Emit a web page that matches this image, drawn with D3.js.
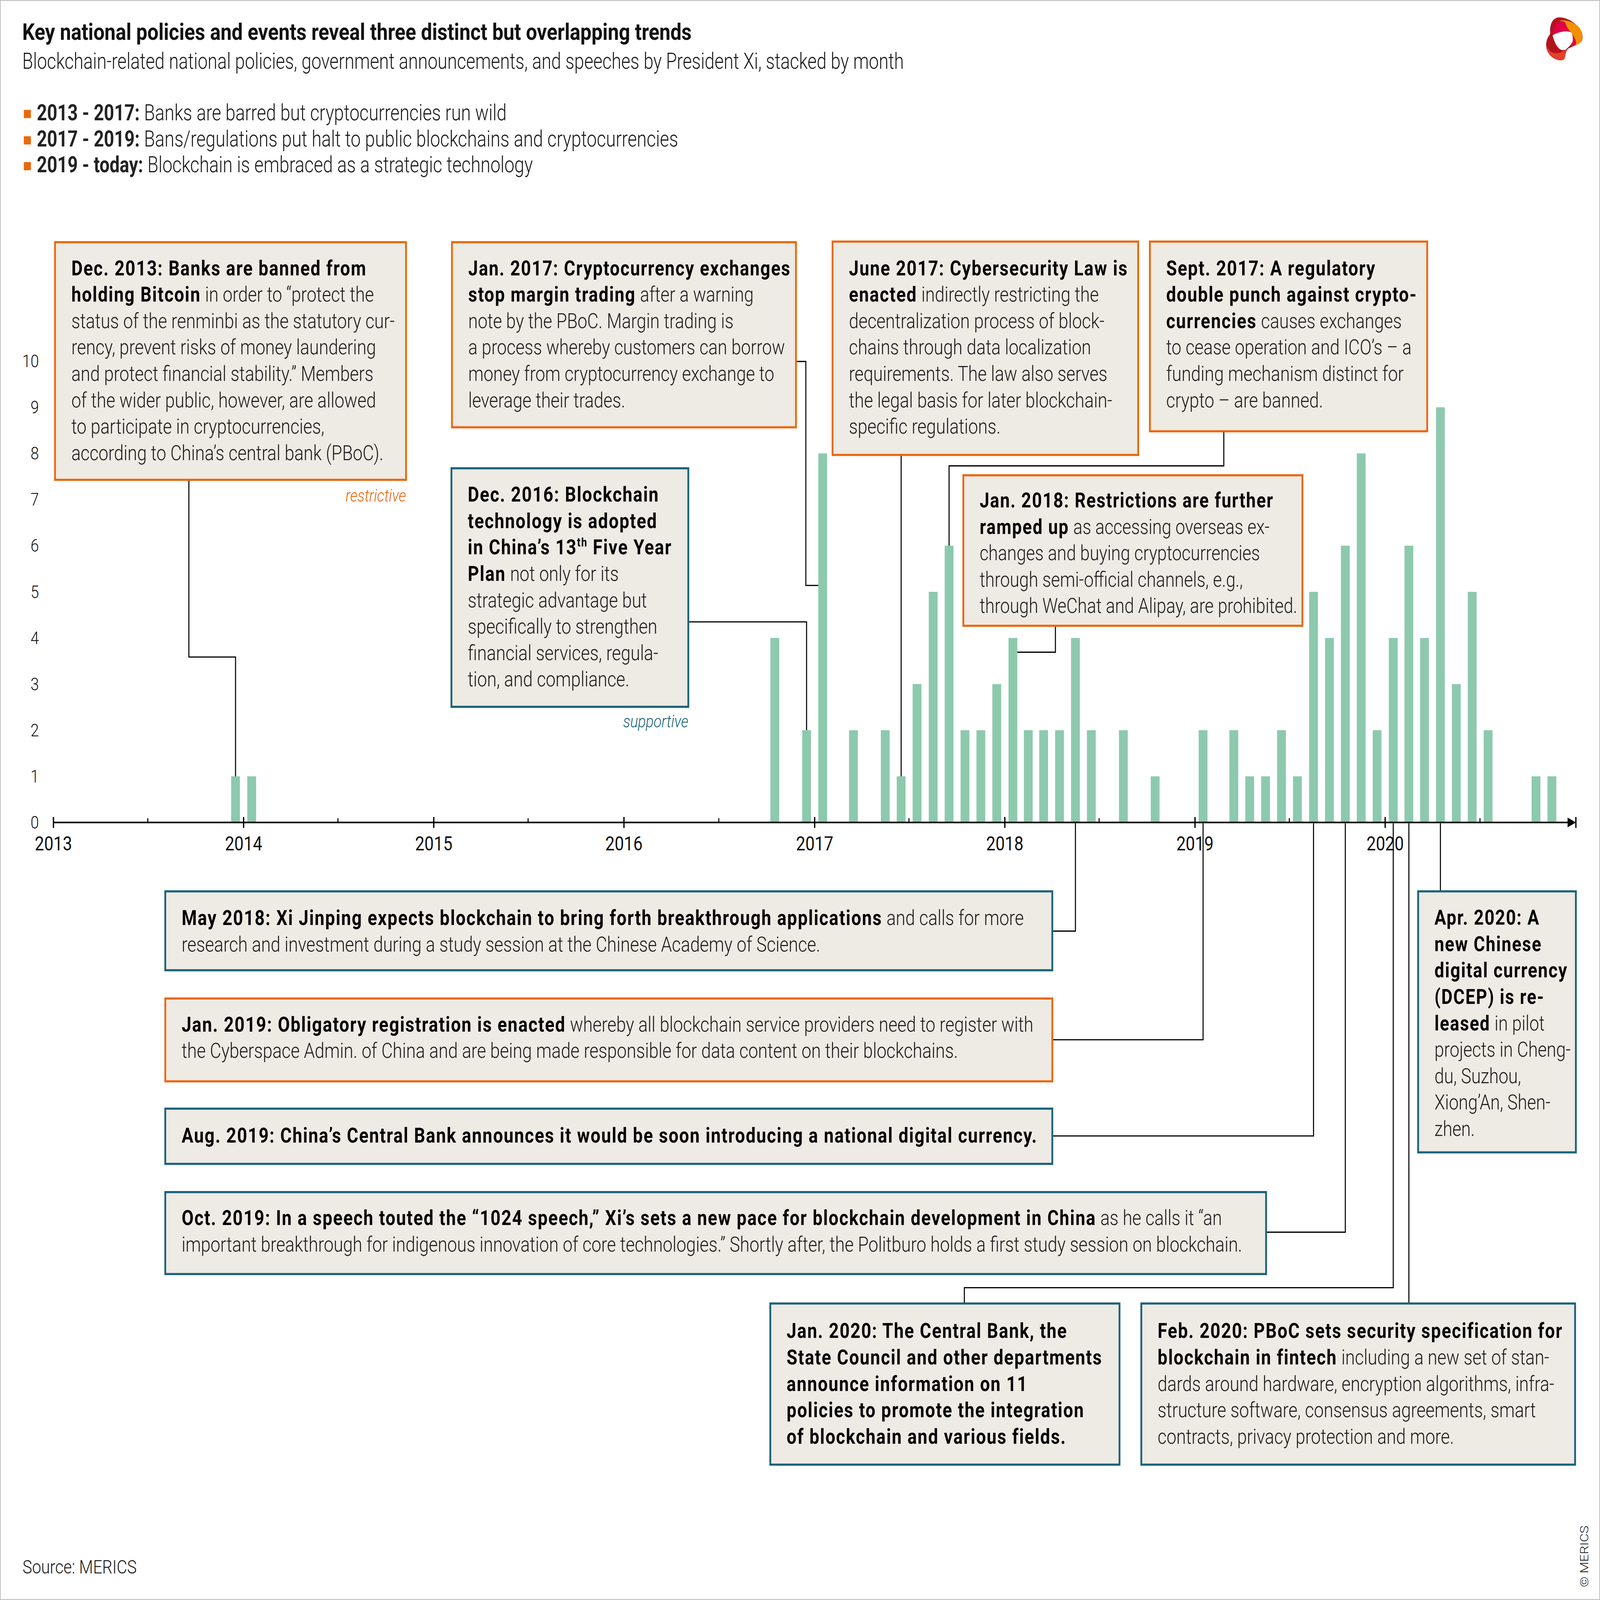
<!DOCTYPE html>
<html><head><meta charset="utf-8">
<script src="https://cdn.jsdelivr.net/npm/d3@7"></script>
<style>
html,body{margin:0;padding:0;background:#fff;width:100%;height:100%;overflow:hidden;}
svg{display:block;width:100vw;height:100vh;}
text{font-family:Roboto,"Open Sans",sans-serif;white-space:pre;}
</style></head>
<body>
<svg id="chart" viewBox="0 0 6167 5272" preserveAspectRatio="none"></svg>
<script>
// ---------------- DATA ----------------
const years = [2013, 2014, 2015, 2016, 2017, 2018, 2019, 2020];
const events2013 = [0,0,0,0,0,0,0,0,0,0,0,1];
const events2014 = [1,0,0,0,0,0,0,0,0,0,0,0];
const events2015 = [0,0,0,0,0,0,0,0,0,0,0,0];
const events2016 = [0,0,0,0,0,0,0,0,0,4,0,2];
const events2017 = [8,0,2,0,2,1,3,5,6,2,2,3];
const events2018 = [4,2,2,2,4,2,0,2,0,1,0,0];
const events2019 = [2,0,2,1,1,2,1,5,4,6,8,2];
const events2020 = [4,6,4,9,3,5,2,0,0,1,1,0];
const yTickValues = [0,1,2,3,4,5,6,7,8,9,10];
const yearTickLabels = ["2013","2014","2015","2016","2017","2018","2019","2020"];

const titleText = "Key national policies and events reveal three distinct but overlapping trends";
const subtitleText = "Blockchain-related national policies, government announcements, and speeches by President Xi, stacked by month";
const phaseLabels = ["2013 - 2017:", "2017 - 2019:", "2019 - today:"];
const phaseTexts = [" Banks are barred but cryptocurrencies run wild",
                    " Bans/regulations put halt to public blockchains and cryptocurrencies",
                    " Blockchain is embraced as a strategic technology"];
const sourceText = "Source: MERICS";
const copyrightText = "© MERICS";

// notes: event month [year, monthIndex], kind, lines (**bold**, ^sup^)
const noteEvents = [
  {id:"dec13", year:2013, month:11, kind:"restrictive", lines:[
    "**Dec. 2013: Banks are banned from**",
    "**holding Bitcoin** in order to “protect the",
    "status of the renminbi as the statutory cur-",
    "rency, prevent risks of money laundering",
    "and protect financial stability.” Members",
    "of the wider public, however, are allowed",
    "to participate in cryptocurrencies,",
    "according to China’s central bank (PBoC)."]},
  {id:"jan17", year:2017, month:0, kind:"restrictive", lines:[
    "**Jan. 2017: Cryptocurrency exchanges**",
    "**stop margin trading** after a warning",
    "note by the PBoC. Margin trading is",
    "a process whereby customers can borrow",
    "money from cryptocurrency exchange to",
    "leverage their trades."]},
  {id:"dec16", year:2016, month:11, kind:"supportive", lines:[
    "**Dec. 2016: Blockchain**",
    "**technology is adopted**",
    "**in China’s 13^th^ Five Year**",
    "**Plan** not only for its",
    "strategic advantage but",
    "specifically to strengthen",
    "financial services, regula-",
    "tion, and compliance."]},
  {id:"jun17", year:2017, month:5, kind:"restrictive", lines:[
    "**June 2017: Cybersecurity Law is**",
    "**enacted** indirectly restricting the",
    "decentralization process of block-",
    "chains through data localization",
    "requirements. The law also serves",
    "the legal basis for later blockchain-",
    "specific regulations."]},
  {id:"sep17", year:2017, month:8, kind:"restrictive", lines:[
    "**Sept. 2017: A regulatory**",
    "**double punch against crypto-**",
    "**currencies** causes exchanges",
    "to cease operation and ICO’s – a",
    "funding mechanism distinct for",
    "crypto – are banned."]},
  {id:"jan18", year:2018, month:0, kind:"restrictive", lines:[
    "**Jan. 2018: Restrictions are further**",
    "**ramped up** as accessing overseas ex-",
    "changes and buying cryptocurrencies",
    "through semi-official channels, e.g.,",
    "through WeChat and Alipay, are prohibited."]},
  {id:"may18", year:2018, month:4, kind:"supportive", lines:[
    "**May 2018: Xi Jinping expects blockchain to bring forth breakthrough applications** and calls for more",
    "research and investment during a study session at the Chinese Academy of Science."]},
  {id:"jan19", year:2019, month:0, kind:"restrictive", lines:[
    "**Jan. 2019: Obligatory registration is enacted** whereby all blockchain service providers need to register with",
    "the Cyberspace Admin. of China and are being made responsible for data content on their blockchains."]},
  {id:"aug19", year:2019, month:7, kind:"supportive", lines:[
    "**Aug. 2019: China’s Central Bank announces it would be soon introducing a national digital currency.**"]},
  {id:"oct19", year:2019, month:9, kind:"supportive", lines:[
    "**Oct. 2019: In a speech touted the “1024 speech,” Xi’s sets a new pace for blockchain development in China** as he calls it “an",
    "important breakthrough for indigenous innovation of core technologies.” Shortly after, the Politburo holds a first study session on blockchain."]},
  {id:"jan20", year:2020, month:0, kind:"supportive", lines:[
    "**Jan. 2020: The Central Bank, the**",
    "**State Council and other departments**",
    "**announce information on 11**",
    "**policies to promote the integration**",
    "**of blockchain and various fields.**"]},
  {id:"feb20", year:2020, month:1, kind:"supportive", lines:[
    "**Feb. 2020: PBoC sets security specification for**",
    "**blockchain in fintech** including a new set of stan-",
    "dards around hardware, encryption algorithms, infra-",
    "structure software, consensus agreements, smart",
    "contracts, privacy protection and more."]},
  {id:"apr20", year:2020, month:3, kind:"supportive", lines:[
    "**Apr. 2020: A**",
    "**new Chinese**",
    "**digital currency**",
    "**(DCEP) is re-**",
    "**leased** in pilot",
    "projects in Cheng-",
    "du, Suzhou,",
    "Xiong’An, Shen-",
    "zhen."]}
];

// ---------------- LAYOUT / STYLE ----------------
const W = 6167, H = 5272;
const C = {orange:"#EB670B", teal:"#19637A", fill:"#EEEAE4", bar:"#8DC9AE", ink:"#000", light:"#1a1a1a", frame:"#c2c2c2"};
const FONT = 68, LINE_H = 87, PAD_L = 63, PAD_R = 20, K_TEXT = 0.985, BOLD_LS = 3.2;

const layout = {
  dec13:{x:212, y:798, w:1353, h:783, first:109},
  jan17:{x:1742, y:798, w:1326, h:610, first:109},
  dec16:{x:1740, y:1543, w:913, h:786, first:110},
  jun17:{x:3209, y:796, w:1178, h:703, first:111},
  sep17:{x:4432, y:796, w:1069, h:625, first:111},
  jan18:{x:3713, y:1566, w:1307, h:496, first:106},
  may18:{x:637, y:2937, w:3419, h:260, first:111},
  jan19:{x:637, y:3290, w:3419, h:273, first:109},
  aug19:{x:637, y:3653, w:3419, h:182, first:112},
  oct19:{x:637, y:3928, w:4243, h:270, first:109},
  jan20:{x:2969, y:4295, w:1346, h:531, first:114},
  feb20:{x:4399, y:4295, w:1672, h:531, first:114},
  apr20:{x:5466, y:2937, w:608, h:860, first:110}
};

const svg = d3.select("#chart");
svg.append("rect").attr("x",1.5).attr("y",1.5).attr("width",W-3).attr("height",H-3)
  .attr("fill","#fff").attr("stroke",C.frame).attr("stroke-width",3);

// ---------------- SCALES ----------------
const x = d3.scaleTime().domain([new Date(2013,0,1), new Date(2021,0,1)]).range([206, 6074]);
const y = d3.scaleLinear().domain([0,10]).range([2710, 1190]);
const axisY = y(0);
const BAR_W = 34;

const monthly = [];
const allYears = [events2013, events2014, events2015, events2016, events2017, events2018, events2019, events2020];
allYears.forEach((arr, yi) => arr.forEach((v, m) => {
  const s = new Date(years[yi], m, 1), e = d3.timeMonth.offset(s, 1);
  monthly.push({date:s, end:e, value:v});
}));
const xMid = d => (x(d.date) + x(d.end)) / 2;
const findMonth = (yr, m) => monthly.find(d => d.date.getFullYear() === yr && d.date.getMonth() === m);

// ---------------- RICH TEXT ----------------
function richText(sel, str, opts) {
  const parts = str.split("**");
  let pendingDy = 0;
  parts.forEach((p, i) => {
    if (!p) return;
    const bold = i % 2 === 1;
    p.split("^").forEach((q, j) => {
      if (!q) return;
      const sup = j % 2 === 1;
      const ts = sel.append("tspan").text(q)
        .attr("font-weight", bold ? 700 : 300)
        .attr("fill", bold ? C.ink : C.light);
      if (bold && opts.boldLs) ts.attr("letter-spacing", opts.boldLs);
      if (sup) { ts.attr("font-size", opts.size * 0.58).attr("dy", -opts.size * 0.38); pendingDy = opts.size * 0.38; }
      else if (pendingDy) { ts.attr("dy", pendingDy); pendingDy = 0; }
    });
  });
}

// ---------------- HEADER ----------------
svg.append("text").attr("x",86).attr("y",131).attr("font-size",76).attr("font-weight",700).attr("fill","#111").text(titleText);
svg.append("g").attr("transform","translate(86,0) scale(0.92,1)")
  .append("text").attr("x",0).attr("y",227).attr("font-size",74).attr("font-weight",300).attr("fill",C.light).text(subtitleText);
const phaseBase = [396, 483, 568];
phaseLabels.forEach((lab, i) => {
  svg.append("rect").attr("x",92).attr("y",phaseBase[i]-34).attr("width",27).attr("height",27).attr("fill",C.orange);
  const t = svg.append("g").attr("transform",`translate(142,0) scale(0.93,1)`)
    .append("text").attr("x",0).attr("y",phaseBase[i]).attr("font-size",74);
  t.append("tspan").attr("font-weight",700).attr("fill","#222").text(lab);
  t.append("tspan").attr("font-weight",300).attr("fill",C.light).text(phaseTexts[i]);
});

// ---------------- LOGO ----------------
const logo = svg.append("g").attr("transform","translate(5800,0) scale(0.3333)");
logo.append("path").attr("fill","#B3131C").attr("d","M525,335 C520,250 540,185 620,172 C720,165 860,240 895,330 C910,390 890,420 840,440 C790,455 760,470 735,480 C710,495 705,530 695,570 C690,595 660,598 630,595 C550,585 475,520 478,440 C480,390 505,360 525,335 Z");
logo.append("path").attr("fill","#F39200").attr("d","M630,205 C700,190 800,215 860,270 C905,320 910,390 870,425 C850,440 830,445 820,445 C830,420 820,390 800,370 C780,340 740,300 715,265 C705,240 700,215 630,205 Z");
logo.append("path").attr("fill","#E0004B").attr("d","M555,345 C560,270 590,225 640,210 C690,205 705,220 715,260 C740,300 790,340 810,380 C830,420 820,440 790,455 L760,470 C780,440 790,400 780,380 C720,300 620,310 555,345 Z");
logo.append("path").attr("fill","#E5412B").attr("d","M480,440 C478,500 540,570 620,595 C670,600 690,590 695,565 C705,525 710,500 735,482 C700,495 650,530 580,525 C530,520 495,490 480,440 Z");
logo.append("path").attr("fill","#fff").attr("d","M553,350 C620,315 720,295 775,325 C790,360 790,400 780,420 C760,450 730,470 705,490 C660,505 630,490 600,450 C580,420 565,390 553,350 Z");

// ---------------- BARS ----------------
svg.append("g").selectAll("rect").data(monthly.filter(d => d.value > 0)).join("rect")
  .attr("x", d => xMid(d) - BAR_W/2).attr("width", BAR_W)
  .attr("y", d => y(d.value)).attr("height", d => axisY - y(d.value))
  .attr("fill", C.bar);

// ---------------- AXES ----------------
const ax = svg.append("g");
ax.append("line").attr("x1", x.range()[0]).attr("x2", x.range()[1]-20).attr("y1", axisY).attr("y2", axisY)
  .attr("stroke","#000").attr("stroke-width",5);
const yearStarts = years.map(yr => new Date(yr,0,1));
ax.selectAll("line.major").data(yearStarts).join("line").attr("class","major")
  .attr("x1", d => x(d)).attr("x2", d => x(d)).attr("y1", axisY-18).attr("y2", axisY+18)
  .attr("stroke","#000").attr("stroke-width",5);
ax.selectAll("line.minor").data(years.map(yr => new Date(yr,6,1))).join("line").attr("class","minor")
  .attr("x1", d => x(d)).attr("x2", d => x(d)).attr("y1", axisY-14).attr("y2", axisY)
  .attr("stroke","#000").attr("stroke-width",4);
const xe = x.range()[1];
ax.append("path").attr("d", `M${xe-32},${axisY-16} L${xe},${axisY} L${xe-32},${axisY+16} Z`).attr("fill","#000");
ax.append("line").attr("x1",xe).attr("x2",xe).attr("y1",axisY-18).attr("y2",axisY+18).attr("stroke","#000").attr("stroke-width",5);
ax.selectAll("text.year").data(yearStarts).join("text").attr("class","year")
  .attr("x", d => x(d)).attr("y", axisY+92).attr("text-anchor","middle")
  .attr("font-size",64).attr("font-weight",400).attr("fill","#111")
  .text((d,i) => yearTickLabels[i]);
ax.selectAll("text.yl").data(yTickValues).join("text").attr("class","yl")
  .attr("x",150).attr("y", d => y(d) + 20).attr("text-anchor","end")
  .attr("font-size",58).attr("font-weight",300).attr("fill","#111").text(d => d);

// ---------------- LEADERS ----------------
const leaders = svg.append("g").attr("fill","none").attr("stroke","#000").attr("stroke-width",4);
function mth(id){ const n = noteEvents.find(e => e.id === id); return findMonth(n.year, n.month); }
const L = layout;
const P = [];
{ const d = mth("dec13"); P.push(`M728,${L.dec13.y+L.dec13.h} V2165 H${xMid(d)} V${y(d.value)}`); }
{ const d = mth("jan17"); P.push(`M${L.jan17.x+L.jan17.w},1191 H3106 V1929 H${xMid(d)-BAR_W/2}`); }
{ const d = mth("dec16"); P.push(`M${L.dec16.x+L.dec16.w},2049 H${xMid(d)} V${y(d.value)}`); }
{ const d = mth("jun17"); P.push(`M${xMid(d)},${L.jun17.y+L.jun17.h} V${y(d.value)}`); }
{ const d = mth("sep17"); P.push(`M4717,${L.sep17.y+L.sep17.h} V1535 H${xMid(d)} V${y(d.value)}`); }
{ const d = mth("jan18"); P.push(`M4068,${L.jan18.y+L.jan18.h} V2149 H${xMid(d)+BAR_W/2}`); }
{ const d = mth("may18"); P.push(`M${L.may18.x+L.may18.w},3068 H${xMid(d)} V${axisY+3}`); }
{ const d = mth("jan19"); P.push(`M${L.jan19.x+L.jan19.w},3426 H${xMid(d)} V${axisY+3}`); }
{ const d = mth("aug19"); P.push(`M${L.aug19.x+L.aug19.w},3743 H${xMid(d)} V${axisY+3}`); }
{ const d = mth("oct19"); P.push(`M${L.oct19.x+L.oct19.w},4060 H${xMid(d)} V${axisY+3}`); }
{ const d = mth("jan20"); P.push(`M3717,${L.jan20.y} V4243 H${xMid(d)} V${axisY+3}`); }
{ const d = mth("feb20"); P.push(`M${xMid(d)},${L.feb20.y} V${axisY+3}`); }
{ const d = mth("apr20"); P.push(`M${xMid(d)},${L.apr20.y} V${axisY+3}`); }
P.forEach(p => leaders.append("path").attr("d", p));

// ---------------- NOTES ----------------
noteEvents.forEach(n => {
  const b = layout[n.id];
  const col = n.kind === "restrictive" ? C.orange : C.teal;
  const g = svg.append("g");
  g.append("rect").attr("x",b.x).attr("y",b.y).attr("width",b.w).attr("height",b.h)
    .attr("fill",C.fill).attr("stroke",col).attr("stroke-width",7);
  const outer = g.append("g").attr("transform",`translate(${b.x+PAD_L},0)`);
  const inner = outer.append("g");
  n.lines.forEach((ln, i) => {
    const t = inner.append("text").attr("x",0).attr("y", b.y + b.first + i*LINE_H).attr("font-size",FONT);
    richText(t, ln, {size:FONT, boldLs:BOLD_LS});
  });
  let maxW = 0;
  inner.selectAll("text").each(function(){ maxW = Math.max(maxW, this.getComputedTextLength()); });
  const avail = b.w - PAD_L - PAD_R;
  const k = Math.min(K_TEXT, avail / maxW);
  inner.attr("transform", `scale(${k},1)`);
});

// restrictive / supportive tags
svg.append("text").attr("x", L.dec13.x+L.dec13.w).attr("y", 1653).attr("text-anchor","end")
  .attr("font-size",56).attr("font-style","italic").attr("font-weight",300).attr("fill",C.orange).text("restrictive");
svg.append("text").attr("x", L.dec16.x+L.dec16.w).attr("y", 2396).attr("text-anchor","end")
  .attr("font-size",56).attr("font-style","italic").attr("font-weight",300).attr("fill",C.teal).text("supportive");

// ---------------- FOOTER ----------------
svg.append("text").attr("x",87).attr("y",5185).attr("font-size",62).attr("font-weight",300).attr("fill",C.light).text(sourceText);
svg.append("text").attr("transform","translate(6122,5230) rotate(-90)").attr("font-size",44).attr("font-weight",300)
  .attr("fill",C.light).text(copyrightText);
</script>
</body></html>
